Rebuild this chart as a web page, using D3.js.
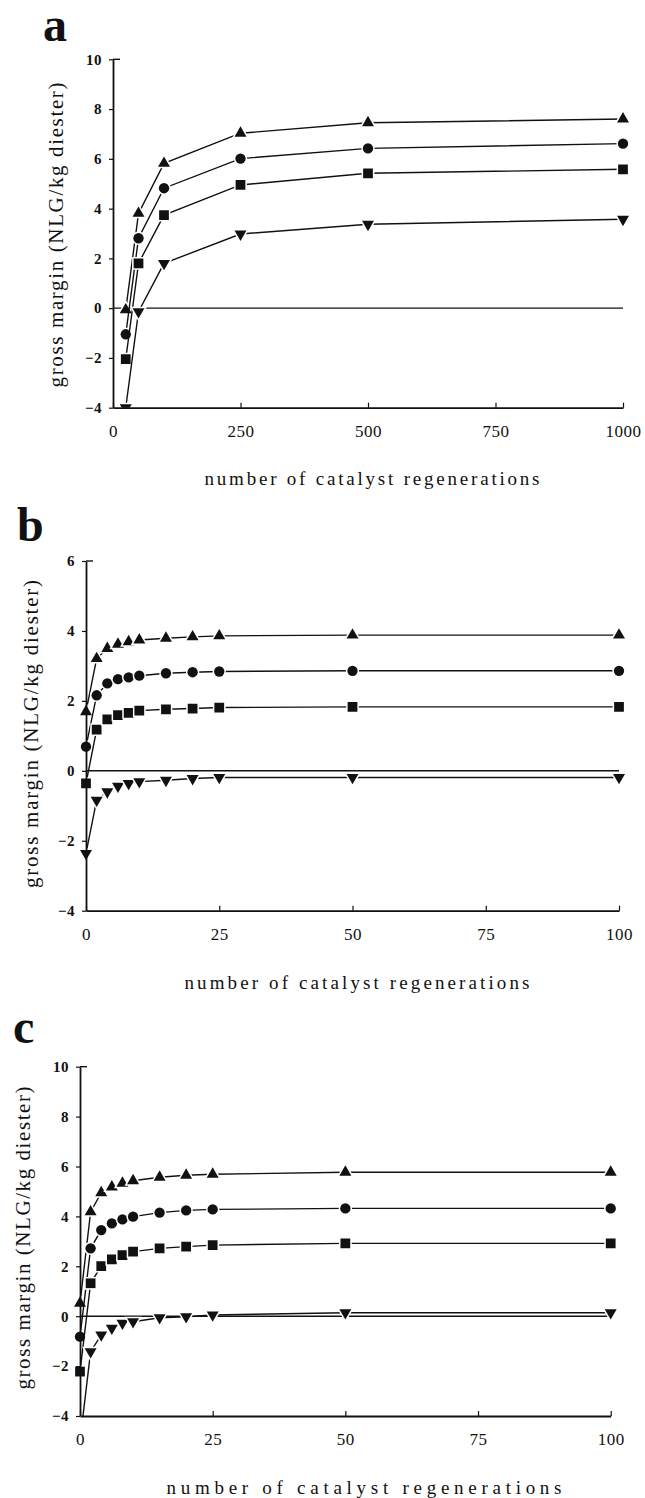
<!DOCTYPE html>
<html>
<head>
<meta charset="utf-8">
<script src="https://cdnjs.cloudflare.com/ajax/libs/d3/7.8.5/d3.min.js"></script>
<style>
  body { margin: 0; background: #fff; }
</style>
</head>
<body>
<svg id="fig" width="645" height="1498"></svg>
<script>
'use strict';

// panel a
var aRegen = [25, 50, 100, 250, 500, 1000];
var aUp = [-0.07, 3.81, 5.82, 7.03, 7.45, 7.6];
var aCircle = [-1.05, 2.81, 4.82, 6.01, 6.42, 6.61];
var aSquare = [-2.05, 1.8, 3.74, 4.95, 5.42, 5.58];
var aDown = [-4.0, -0.14, 1.8, 2.98, 3.37, 3.57];
var aXTicks = [0, 250, 500, 750, 1000];
var aYTicks = [-4, -2, 0, 2, 4, 6, 8, 10];

// panel b
var bRegen = [0, 2, 4, 6, 8, 10, 15, 20, 25, 50, 100];
var bUp = [1.69, 3.21, 3.5, 3.62, 3.69, 3.74, 3.79, 3.83, 3.86, 3.88, 3.88];
var bCircle = [0.69, 2.16, 2.5, 2.62, 2.67, 2.72, 2.79, 2.82, 2.84, 2.86, 2.86];
var bSquare = [-0.36, 1.18, 1.47, 1.59, 1.66, 1.72, 1.76, 1.78, 1.81, 1.83, 1.83];
var bDown = [-2.36, -0.84, -0.6, -0.44, -0.36, -0.31, -0.27, -0.22, -0.19, -0.19, -0.19];
var bXTicks = [0, 25, 50, 75, 100];
var bYTicks = [-4, -2, 0, 2, 4, 6];

// panel c
var cRegen = [0, 2, 4, 6, 8, 10, 15, 20, 25, 50, 100];
var cUp = [0.52, 4.18, 4.95, 5.18, 5.33, 5.43, 5.57, 5.65, 5.69, 5.77, 5.77];
var cCircle = [-0.82, 2.72, 3.45, 3.72, 3.88, 3.99, 4.15, 4.24, 4.28, 4.32, 4.32];
var cSquare = [-2.22, 1.32, 2.01, 2.28, 2.45, 2.59, 2.72, 2.79, 2.85, 2.92, 2.92];
var cDown = [-5.0, -1.42, -0.75, -0.48, -0.28, -0.22, -0.06, -0.02, 0.05, 0.14, 0.14];
var cXTicks = [0, 25, 50, 75, 100];
var cYTicks = [-4, -2, 0, 2, 4, 6, 8, 10];

var xTitle = 'number of catalyst regenerations';
var yTitle = 'gross margin (NLG/kg diester)';

var serif = '"Liberation Serif", "Times New Roman", "DejaVu Serif", serif';

var panels = [
  { letter: 'a', regen: aRegen, series: [aUp, aCircle, aSquare, aDown],
    xTicks: aXTicks, yTicks: aYTicks, xDomain: [0, 1000], yDomain: [-4, 10],
    left: 113, right: 623, top: 59.3, bottom: 407.7,
    letterX: 43, letterY: 41, yTitleX: 63, yTitleY: 235, yTitleLen: 305,
    xTitleX: 372, xTitleY: 485, xTitleLen: 335 },
  { letter: 'b', regen: bRegen, series: [bUp, bCircle, bSquare, bDown],
    xTicks: bXTicks, yTicks: bYTicks, xDomain: [0, 100], yDomain: [-4, 6],
    left: 86, right: 619, top: 561, bottom: 910.7,
    letterX: 17, letterY: 541, yTitleX: 38, yTitleY: 734, yTitleLen: 308,
    xTitleX: 357, xTitleY: 989, xTitleLen: 345 },
  { letter: 'c', regen: cRegen, series: [cUp, cCircle, cSquare, cDown],
    xTicks: cXTicks, yTicks: cYTicks, xDomain: [0, 100], yDomain: [-4, 10],
    left: 80, right: 610.7, top: 1066.7, bottom: 1416,
    letterX: 13, letterY: 1043, yTitleX: 30, yTitleY: 1238, yTitleLen: 303,
    xTitleX: 364, xTitleY: 1494, xTitleLen: 395 }
];

// triangle up, circle, square, triangle down
var shapes = [
  { type: d3.symbolTriangle, size: 62, rot: 0 },
  { type: d3.symbolCircle, size: 84, rot: 0 },
  { type: d3.symbolSquare, size: 95, rot: 0 },
  { type: d3.symbolTriangle, size: 62, rot: 180 }
];

var svg = d3.select('#fig');

panels.forEach(function (p, pi) {
  var x = d3.scaleLinear().domain(p.xDomain).range([p.left, p.right]);
  var y = d3.scaleLinear().domain(p.yDomain).range([p.bottom, p.top]);

  var g = svg.append('g').attr('class', 'panel-' + p.letter);

  // clip only below the x axis (points off scale)
  var clipId = 'clip' + pi;
  svg.append('clipPath').attr('id', clipId)
    .append('rect')
    .attr('x', p.left - 12).attr('y', p.top - 12)
    .attr('width', p.right - p.left + 24)
    .attr('height', p.bottom - p.top + 12);

  var plot = g.append('g').attr('clip-path', 'url(#' + clipId + ')');

  // zero line
  plot.append('line')
    .attr('x1', x(p.xDomain[0])).attr('x2', x(p.xDomain[1]))
    .attr('y1', y(0)).attr('y2', y(0))
    .attr('stroke', '#111').attr('stroke-width', 1.4);

  var line = d3.line()
    .x(function (d) { return x(d.n); })
    .y(function (d) { return y(d.v); });

  p.series.forEach(function (vals, si) {
    var data = p.regen.map(function (n, i) { return { n: n, v: vals[i] }; });

    plot.append('path')
      .datum(data)
      .attr('fill', 'none')
      .attr('stroke', '#111')
      .attr('stroke-width', 1.4)
      .attr('d', line);

    var sh = shapes[si];
    plot.selectAll('.m' + si)
      .data(data)
      .enter().append('path')
      .attr('class', 'm' + si)
      .attr('d', d3.symbol().type(sh.type).size(sh.size))
      .attr('transform', function (d) {
        return 'translate(' + x(d.n) + ',' + y(d.v) + ') rotate(' + sh.rot + ')';
      })
      .attr('fill', '#111')
      .attr('stroke', '#fff')
      .attr('stroke-width', 3)
      .style('paint-order', 'stroke');
  });

  // y axis
  var yAxis = g.append('g')
    .attr('transform', 'translate(' + p.left + ',0)')
    .call(d3.axisLeft(y).tickValues(p.yTicks).tickSize(4).tickSizeOuter(0).tickPadding(7));
  yAxis.attr('font-family', null);
  yAxis.select('.domain').attr('stroke', '#111').attr('stroke-width', 1.8);
  yAxis.selectAll('.tick line').attr('stroke', '#111').attr('stroke-width', 1.2);
  yAxis.selectAll('.tick text')
    .attr('fill', '#111')
    .style('font-family', serif)
    .style('font-size', '15px').style('font-weight', 'bold')
    .style('letter-spacing', '0.5px');
  yAxis.append('line')
    .attr('x1', 0).attr('x2', 7)
    .attr('y1', p.top).attr('y2', p.top)
    .attr('stroke', '#111').attr('stroke-width', 1.4);

  // x axis, ticks point inward
  var xAxis = g.append('g')
    .attr('transform', 'translate(0,' + p.bottom + ')')
    .call(d3.axisBottom(x).tickValues(p.xTicks).tickFormat(d3.format('d'))
      .tickSize(-5).tickSizeOuter(0).tickPadding(17));
  xAxis.attr('font-family', null);
  xAxis.select('.domain').attr('stroke', '#111').attr('stroke-width', 1.8);
  xAxis.selectAll('.tick line').attr('stroke', '#111').attr('stroke-width', 1.2);
  xAxis.selectAll('.tick text')
    .attr('fill', '#111')
    .style('font-family', serif)
    .style('font-size', '17px')
    .style('letter-spacing', '0.5px');

  // panel letter
  g.append('text')
    .attr('x', p.letterX).attr('y', p.letterY)
    .attr('fill', '#111')
    .style('font-family', serif)
    .style('font-size', '48px').style('font-weight', 'bold')
    .text(p.letter);

  // axis titles
  g.append('text')
    .attr('transform', 'translate(' + p.yTitleX + ',' + p.yTitleY + ') rotate(-90)')
    .attr('text-anchor', 'middle')
    .attr('textLength', p.yTitleLen)
    .attr('lengthAdjust', 'spacing')
    .attr('fill', '#111')
    .style('font-family', serif)
    .style('font-size', '21px')
    .text(yTitle);

  g.append('text')
    .attr('x', p.xTitleX).attr('y', p.xTitleY)
    .attr('text-anchor', 'middle')
    .attr('textLength', p.xTitleLen)
    .attr('lengthAdjust', 'spacing')
    .attr('fill', '#111')
    .style('font-family', serif)
    .style('font-size', '19px')
    .text(xTitle);
});
</script>
</body>
</html>
